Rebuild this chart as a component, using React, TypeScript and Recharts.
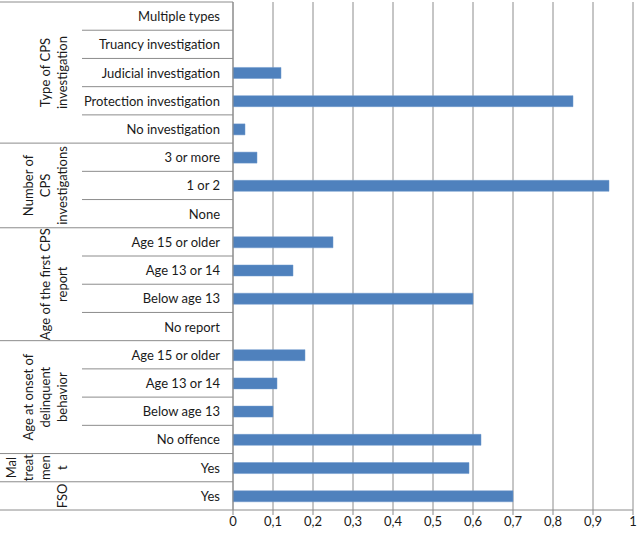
import React from 'react';
import { BarChart, Bar, XAxis, YAxis, CartesianGrid } from 'recharts';

const categories = [
  'Multiple types',
  'Truancy investigation',
  'Judicial investigation',
  'Protection investigation',
  'No investigation',
  '3 or more',
  '1 or 2',
  'None',
  'Age 15 or older',
  'Age 13 or 14',
  'Below age 13',
  'No report',
  'Age 15 or older ',
  'Age 13 or 14 ',
  'Below age 13 ',
  'No offence',
  'Yes',
  'Yes ',
];

const values = [0, 0, 0.12, 0.85, 0.03, 0.06, 0.94, 0, 0.25, 0.15, 0.6, 0, 0.18, 0.11, 0.1, 0.62, 0.59, 0.7];

const groupLabels = [
  ['Type of CPS', 'investigation'],
  ['Number of', 'CPS', 'investigations'],
  ['Age of the first CPS', 'report'],
  ['Age at onset of', 'delinquent', 'behavior'],
  ['Mal', 'treat', 'men', 't'],
  ['FSO'],
];
const groupSizes = [5, 3, 4, 4, 1, 1];

const xTicks = [0, 0.1, 0.2, 0.3, 0.4, 0.5, 0.6, 0.7, 0.8, 0.9, 1];

const data = categories.map((c, i) => ({ name: c, value: values[i] }));

const W = 638;
const H = 538;
const M_TOP = 2;
const M_RIGHT = 5;
const XAXIS_H = 28;
const YAXIS_W = 233;
const BAND = (H - M_TOP - XAXIS_H) / categories.length;
const FONT = 'Lato, "Open Sans", sans-serif';
const LINE = '#8c8c8c';

const groupStart: number[] = [];
const groupEnd: number[] = [];
{
  let s = 0;
  groupSizes.forEach((n) => {
    groupStart.push(s);
    groupEnd.push(s + n - 1);
    s += n;
  });
}

const YTick = (props: any) => {
  const { y, payload } = props;
  const index = payload.index ?? props.index;
  const label = String(payload.value).trim();
  const gEndIdx = groupEnd.indexOf(index);
  const gStartIdx = groupStart.indexOf(index);
  const elems: React.ReactNode[] = [];
  elems.push(
    <text key="t" x={220} y={y} textAnchor="end" dominantBaseline="central" fontSize={13} fontFamily={FONT} fill="#1a1a1a">
      {label}
    </text>
  );
  elems.push(
    <line key="b" x1={gEndIdx >= 0 ? 0 : 82} x2={YAXIS_W} y1={y + BAND / 2} y2={y + BAND / 2} stroke={LINE} strokeWidth={1} />
  );
  if (index === 0) {
    elems.push(<line key="top" x1={0} x2={YAXIS_W} y1={y - BAND / 2} y2={y - BAND / 2} stroke={LINE} strokeWidth={1} />);
  }
  if (gStartIdx >= 0) {
    const lines = groupLabels[gStartIdx];
    const n = groupSizes[gStartIdx];
    const cy = y + ((n - 1) / 2) * BAND;
    const k = lines.length;
    lines.forEach((ln, j) => {
      const lx = 62 - (k - 1 - j) * 17;
      elems.push(
        <text
          key={'g' + j}
          x={lx}
          y={cy}
          transform={`rotate(-90 ${lx} ${cy})`}
          textAnchor="middle"
          dominantBaseline="central"
          fontSize={13}
          fontFamily={FONT}
          fill="#1a1a1a"
        >
          {ln}
        </text>
      );
    });
  }
  return <g>{elems}</g>;
};

export default function App() {
  return (
    <div style={{ position: 'absolute', left: 0, top: 0, background: '#fff' }}>
      <BarChart
        width={W}
        height={H}
        data={data}
        layout="vertical"
        margin={{ top: M_TOP, right: M_RIGHT, bottom: 0, left: 0 }}
        barCategoryGap="0%"
      >
        <CartesianGrid horizontal={false} vertical={true} stroke={LINE} strokeDasharray="" />
        <XAxis
          type="number"
          domain={[0, 1]}
          ticks={xTicks}
          interval={0}
          height={XAXIS_H}
          tickFormatter={(v: number) => String(v).replace('.', ',')}
          tick={{ fontSize: 13, fontFamily: FONT, fill: '#1a1a1a' }}
          axisLine={{ stroke: LINE }}
          tickLine={{ stroke: LINE }}
          tickSize={5}
        />
        <YAxis
          type="category"
          dataKey="name"
          width={YAXIS_W}
          interval={0}
          tick={<YTick />}
          tickLine={false}
          axisLine={{ stroke: LINE }}
        />
        <Bar dataKey="value" fill="#4f81bd" stroke="#6e98cc" strokeWidth={0.5} barSize={11} isAnimationActive={false} />
      </BarChart>
    </div>
  );
}
